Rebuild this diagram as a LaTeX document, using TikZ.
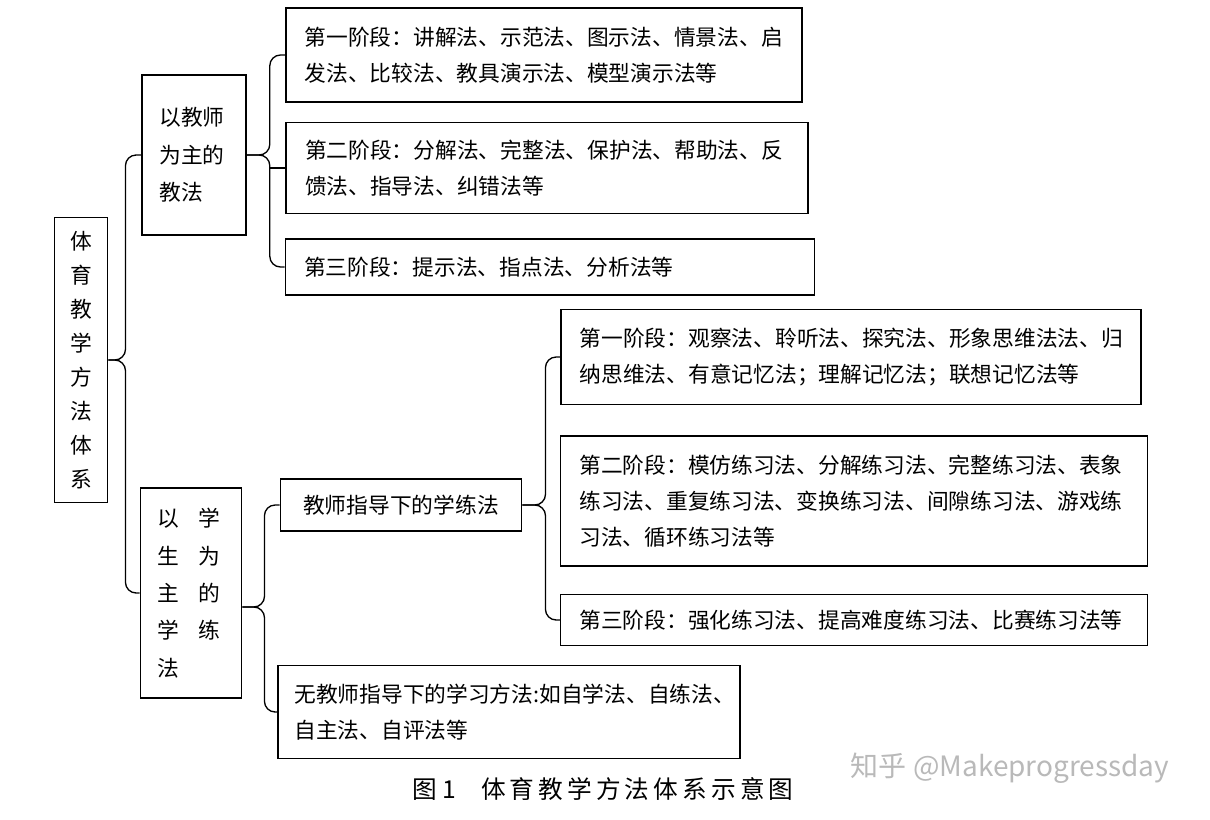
\documentclass[tikz,border=0pt]{standalone}
\usepackage{fontspec}
\setmainfont{Noto Sans CJK SC}
\usetikzlibrary{calc}
\tikzset{
  stagebox/.style={draw=black, line width=1.2pt, align=left, inner xsep=14pt,
    font=\fontsize{16.3}{27}\selectfont},
  groupbox/.style={draw=black, line width=1.2pt, align=left, inner xsep=13pt,
    font=\fontsize{16.3}{28}\selectfont},
  brace/.style={line width=1pt, rounded corners=8pt}
}
\begin{document}
\begin{tikzpicture}[x=0.75pt, y=-0.75pt]
  \useasboundingbox (0,0) rectangle (1210,820);
  % root
  \node[groupbox, minimum width=40pt, minimum height=214pt, inner xsep=0pt, align=center,
    font=\fontsize{16.3}{25.5}\selectfont] (root) at (81,360)
    {体\\育\\教\\学\\方\\法\\体\\系};
  % teacher side
  \node[groupbox, minimum width=76.5pt, minimum height=120pt, text width=52pt] (teach) at (194,155)
    {以教师\\为主的\\教法};
  \node[stagebox, minimum width=387pt, minimum height=70.5pt, text width=359pt] (ta) at (544,55)
    {第一阶段：讲解法、示范法、图示法、情景法、启\\发法、比较法、教具演示法、模型演示法等};
  \node[stagebox, minimum width=391.5pt, minimum height=68pt, text width=363pt] (tb) at (547,168)
    {第二阶段：分解法、完整法、保护法、帮助法、反\\馈法、指导法、纠错法等};
  \node[stagebox, minimum width=397pt, minimum height=42pt, text width=369pt] (tc) at (550,267)
    {第三阶段：提示法、指点法、分析法等};
  % student side
  \node[groupbox, minimum width=73pt, minimum height=157.5pt, text width=50pt] (learn) at (191,593)
    {以\hspace{0.9em}学\\生\hspace{0.9em}为\\主\hspace{0.9em}的\\学\hspace{0.9em}练\\法};
  \node[stagebox, minimum width=181pt, minimum height=39pt] (guided) at (401,505)
    {教师指导下的学练法};
  \node[stagebox, minimum width=433.5pt, minimum height=71pt, text width=407pt] (ga) at (851,357)
    {第一阶段：观察法、聆听法、探究法、形象思维法法、归\\纳思维法、有意记忆法；理解记忆法；联想记忆法等};
  \node[stagebox, minimum width=438pt, minimum height=97.5pt, text width=412pt] (gb) at (854,501)
    {第二阶段：模仿练习法、分解练习法、完整练习法、表象\\练习法、重复练习法、变换练习法、间隙练习法、游戏练\\习法、循环练习法等};
  \node[stagebox, minimum width=438pt, minimum height=38pt, text width=412pt] (gc) at (854,620)
    {第三阶段：强化练习法、提高难度练习法、比赛练习法等};
  \node[stagebox, minimum width=346.5pt, minimum height=70pt, text width=322pt, inner xsep=12pt] (self) at (509,712)
    {无教师指导下的学习方法:如自学法、自练法、\\自主法、自评法等};
  % braces
  \coordinate (c0) at ($(root.east)+(17,0)$);
  \draw[brace] (teach.west) -| (c0) -- (root.east);
  \draw[brace] (learn.west) -| (c0) -- (root.east);
  \coordinate (c1) at ($(teach.east)+(23,0)$);
  \draw[brace] (ta.west) -| (c1) -- (teach.east);
  \draw[brace] (tc.west) -| (c1) -- (teach.east);
  \draw[line width=1pt] (tb.west) -- (c1|-tb.west);
  \coordinate (c2) at ($(learn.east)+(22,14)$);
  \draw[brace] (guided.west) -| (c2) -- ($(learn.east)+(0,14)$);
  \draw[brace] (self.west) -| (c2) -- ($(learn.east)+(0,14)$);
  \coordinate (c3) at ($(guided.east)+(23,0)$);
  \draw[brace] (ga.west) -| (c3) -- (guided.east);
  \draw[brace] (gc.west) -| (c3) -- (guided.east);
  % caption
  \node[font=\fontsize{18.5}{22}\selectfont] (cap) at (603,789) {图 1\quad 体\,育\,教\,学\,方\,法\,体\,系\,示\,意\,图};
  \node[text=gray!55, font=\fontsize{21}{24}\selectfont] (mark) at (1010,768) {知乎 @Makeprogressday};
\end{tikzpicture}
\end{document}
